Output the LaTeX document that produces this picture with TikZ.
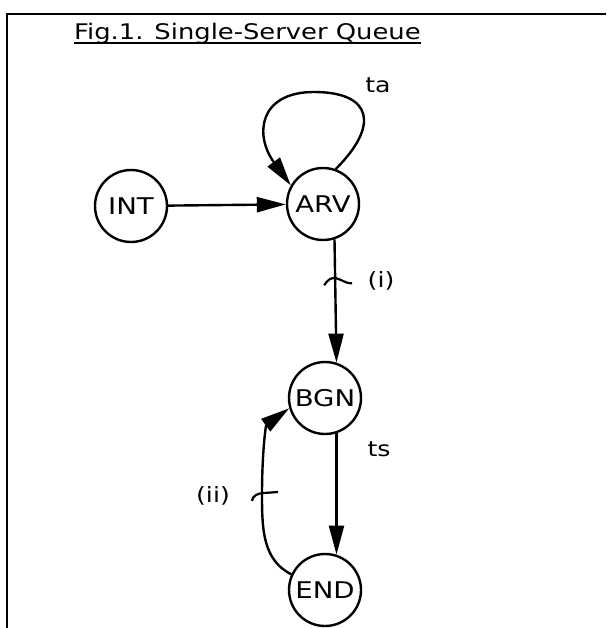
\documentclass[tikz,border=0pt]{standalone}
\usepackage{fontspec}
\setmainfont[FakeStretch=1.2]{DejaVu Sans}
\usetikzlibrary{arrows.meta}

\begin{document}
\begin{tikzpicture}[x=1pt, y=1pt,
        evt/.style={circle, draw, line width=2.4, minimum size=72, inner sep=0, font=\fontsize{23}{27}\selectfont},
        arc/.style={line width=2.4, -{Triangle[length=29,width=15]}},
        lbl/.style={font=\fontsize{21}{25}\selectfont}]
            % Page frame (top and left edges only)
            \useasboundingbox (0,0) rectangle (606,-628);
            \draw[line width=2.8] (606,-14) -- (7,-14) -- (7,-628);

            % Title, underlined
            \node[anchor=base west, inner sep=0, font=\fontsize{21.5}{25}\selectfont] (title) at (74,-40) {Fig.1. Single-Server Queue};
            \draw[line width=2.2] ([yshift=-3]title.base west) -- ([yshift=-3]title.base east);

            % Event vertices
            \node[evt] (INT) at (131,-206) {INT};
            \node[evt] (ARV) at (323,-204) {ARV};
            \node[evt] (BGN) at (325,-398) {BGN};
            \node[evt] (END) at (325,-590) {END};

            % Edges
            \draw[arc] (INT) -- (ARV);
            \draw[arc] (ARV.70) .. controls (380,-125) and (372,-92) .. (314,-92)
                        .. controls (259,-92) and (254,-135) .. (ARV.150);
            \draw[arc] (ARV.-72) -- coordinate[pos=0.34] (cndA) (BGN.72);
            \draw[arc] (BGN.-72) -- (END.72);
            \draw[arc] (END.155) .. controls (263,-560) and (262,-530) .. (262,-495) coordinate (cndB)
                        .. controls (262,-450) and (266,-425) .. (BGN.196);

            % Condition marks on the edges
            \draw[line width=2.2] ([shift={(-11,-4)}]cndA) .. controls +(4,6) and +(-5,1) .. ([shift={(1,3)}]cndA)
                        .. controls +(5,-1) and +(-5,-1) .. ([shift={(17,-2)}]cndA);
            \draw[line width=2.2] ([shift={(-10,-6)}]cndB) .. controls +(0,5) and +(-6,0) .. ([shift={(2,2)}]cndB)
                        -- ([shift={(16,3)}]cndB);

            % Edge labels
            \node[lbl] (ta) at (378,-85) {ta};
            \node[lbl] (lbi) at (381,-281) {(i)};
            \node[lbl] (ts) at (379,-449) {ts};
            \node[lbl] (lbii) at (213,-496) {(ii)};

        \end{tikzpicture}
\end{document}
